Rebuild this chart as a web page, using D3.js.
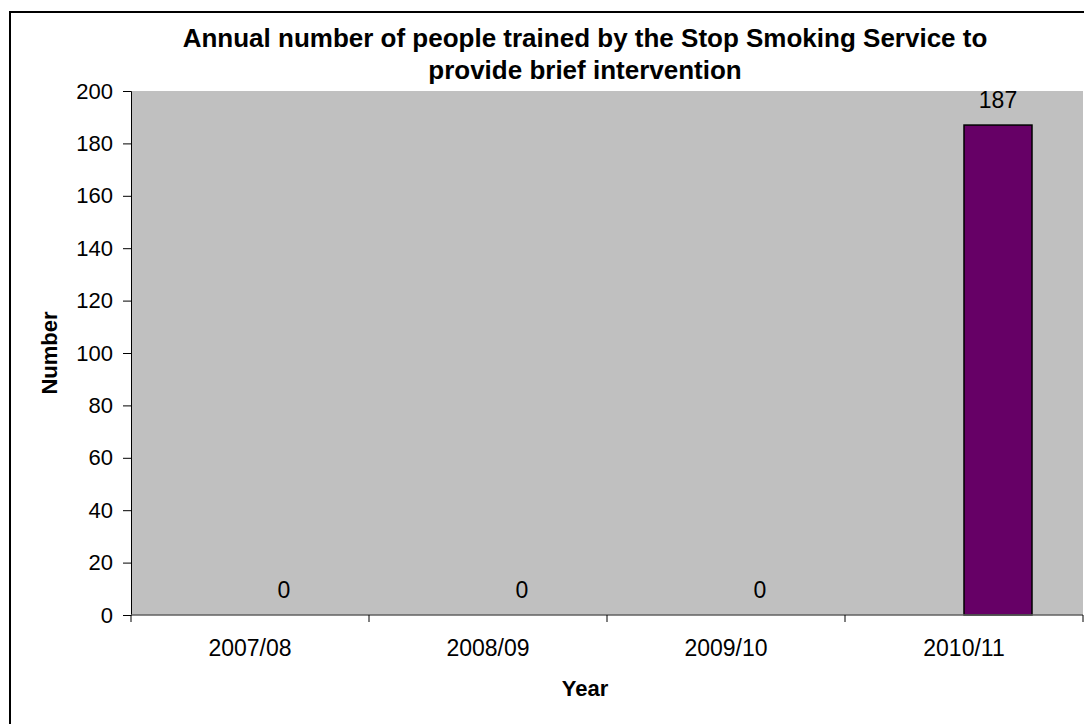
<!DOCTYPE html>
<html>
<head>
<meta charset="utf-8">
<script src="https://cdn.jsdelivr.net/npm/d3@7"></script>
<style>
  html, body { margin: 0; padding: 0; background: #fff; }
  svg { display: block; font-family: "Liberation Sans", Arial, sans-serif; }
</style>
</head>
<body>
<svg id="chart" width="1084" height="724"></svg>
<script>
// Financial years shown on the category axis
const years = ["2007/08", "2008/09", "2009/10", "2010/11"];
// People trained each year to provide brief intervention
const trained = [0, 0, 0, 187];
// Value-axis ticks
const yTicks = [0, 20, 40, 60, 80, 100, 120, 140, 160, 180, 200];
// Clustered layout slots; the first slot is unused, so bars sit right of centre
const seriesSlots = ["", "Trained"];

const svg = d3.select("#chart");

const plot = { left: 131, right: 1083, top: 91, bottom: 615 };

// Chart frame (extends past the visible page on the right and bottom)
svg.append("rect")
  .attr("x", 10).attr("y", 12)
  .attr("width", 1200).attr("height", 800)
  .attr("fill", "#fff")
  .attr("stroke", "#000").attr("stroke-width", 2);

// Plot area
svg.append("rect")
  .attr("x", plot.left).attr("y", plot.top)
  .attr("width", plot.right - plot.left)
  .attr("height", plot.bottom - plot.top)
  .attr("fill", "#c0c0c0");

const x = d3.scaleBand().domain(years).range([plot.left, plot.right]);
const xs = d3.scaleBand().domain(seriesSlots)
  .range([0, x.bandwidth()])
  .paddingInner(0).paddingOuter(0.75);
const y = d3.scaleLinear().domain([0, 200]).range([plot.bottom, plot.top]);

// Y axis
const yAxis = svg.append("g")
  .attr("transform", `translate(${plot.left},0)`)
  .call(d3.axisLeft(y).tickValues(yTicks).tickSize(8).tickPadding(10));
yAxis.select(".domain").attr("stroke", "#000").attr("stroke-width", 1);
yAxis.selectAll(".tick line").attr("stroke", "#000");
yAxis.selectAll(".tick text")
  .attr("font-size", 22).attr("fill", "#000")
  .attr("font-family", "Liberation Sans, Arial, sans-serif");

// Bars
svg.append("g").selectAll("rect")
  .data(years.map((yr, i) => ({ yr, v: trained[i] })))
  .join("rect")
  .attr("x", d => x(d.yr) + xs("Trained"))
  .attr("y", d => y(d.v))
  .attr("width", xs.bandwidth())
  .attr("height", d => y(0) - y(d.v))
  .attr("fill", "#660066")
  .attr("stroke", d => d.v > 0 ? "#000" : "none")
  .attr("stroke-width", 1.5);

// X axis: ticks at category boundaries
const xAxisG = svg.append("g");
xAxisG.append("line")
  .attr("x1", plot.left).attr("x2", plot.right)
  .attr("y1", y(0)).attr("y2", y(0))
  .attr("stroke", "#606060").attr("stroke-width", 1.5);
const bounds = years.map(d => x(d)).concat([x(years[years.length - 1]) + x.bandwidth()]);
xAxisG.selectAll("line.tk")
  .data(bounds)
  .join("line").attr("class", "tk")
  .attr("x1", d => d).attr("x2", d => d)
  .attr("y1", y(0)).attr("y2", y(0) + 7)
  .attr("stroke", "#000");
xAxisG.selectAll("text")
  .data(years)
  .join("text")
  .attr("x", d => x(d) + x.bandwidth() / 2)
  .attr("y", 656)
  .attr("text-anchor", "middle")
  .attr("font-size", 23)
  .text(d => d);

// Value labels
svg.append("g").selectAll("text")
  .data(years.map((yr, i) => ({ yr, v: trained[i] })))
  .join("text")
  .attr("x", d => x(d.yr) + xs("Trained") + xs.bandwidth() / 2)
  .attr("y", d => y(d.v) - 17)
  .attr("text-anchor", "middle")
  .attr("font-size", 23)
  .text(d => d.v);

// Title
const title = svg.append("text")
  .attr("x", 585).attr("y", 47)
  .attr("text-anchor", "middle")
  .attr("font-size", 26).attr("font-weight", "bold");
title.append("tspan").attr("x", 585).attr("dy", 0)
  .text("Annual number of people trained by the Stop Smoking Service to");
title.append("tspan").attr("x", 585).attr("y", 79)
  .text("provide brief intervention");

// Axis titles
svg.append("text")
  .attr("x", 585).attr("y", 696)
  .attr("text-anchor", "middle")
  .attr("font-size", 22).attr("font-weight", "bold")
  .text("Year");

svg.append("text")
  .attr("transform", `translate(57,${(plot.top + plot.bottom) / 2}) rotate(-90)`)
  .attr("text-anchor", "middle")
  .attr("font-size", 22).attr("font-weight", "bold")
  .text("Number");
</script>
</body>
</html>
